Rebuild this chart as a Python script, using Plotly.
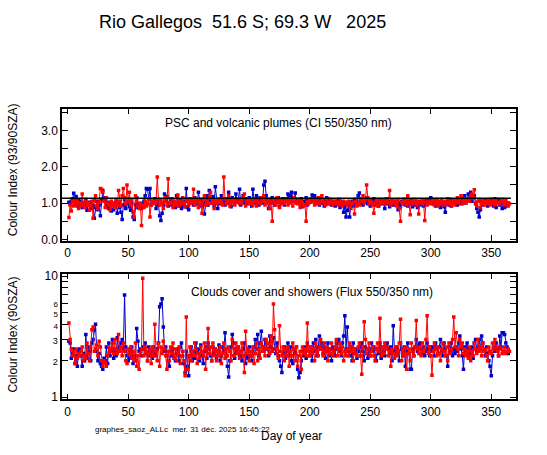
import plotly.graph_objects as go
from plotly.subplots import make_subplots

# colour index (93/90 SZA), one value per day
ci_blue = [
    1.02, 0.98, 1.05, 1.12, 1.27, 1.00, 1.18, 0.92, 1.08, 0.95,
    1.05, 0.88, 1.00, 0.93, 1.10, 0.80, 0.97, 1.02, 0.85, 0.90,
    0.95, 0.58, 0.88, 1.05, 0.82, 0.95, 0.65, 1.10, 1.35, 1.15,
    1.08, 0.95, 1.02, 0.85, 1.00, 0.78, 0.95, 0.82, 0.90, 1.05,
    0.72, 0.98, 0.88, 0.75, 0.55, 0.95, 1.10, 0.85, 0.98, 1.05,
    0.90, 0.80, 1.00, 0.62, 0.55, 0.95, 1.15, 0.88, 0.98, 0.92,
    0.85, 0.98, 1.05, 1.20, 1.40, 1.38, 1.10, 1.40, 0.95, 1.05,
    1.00, 1.12, 0.85, 1.05, 0.95, 0.65, 0.52, 0.72, 0.95, 1.25,
    1.05, 1.18, 0.92, 1.00, 1.10, 0.95, 1.05, 1.02, 0.88, 1.20,
    1.00, 0.92, 1.08, 0.85, 0.95, 1.05, 0.90, 1.40, 0.88, 0.82,
    1.10, 1.00, 1.05, 0.95, 1.15, 1.08, 0.98, 1.30, 1.05, 0.92,
    1.10, 0.98, 0.70, 1.05, 1.20, 0.95, 1.35, 1.08, 1.00, 1.18,
    0.92, 1.45, 1.05, 0.85, 1.10, 0.98, 1.20, 1.02, 1.08, 0.95,
    1.10, 1.00, 1.30, 1.05, 0.90, 1.15, 1.02, 0.98, 1.25, 1.05,
    1.10, 1.38, 0.95, 1.08, 1.20, 1.00, 1.12, 0.98, 1.05, 1.15,
    1.05, 0.92, 1.38, 1.10, 1.00, 1.20, 1.05, 0.95, 1.15, 1.08,
    1.00, 1.50, 1.60, 1.20, 1.05, 0.85, 1.10, 1.00, 1.15, 1.05,
    0.95, 1.10, 1.02, 1.15, 0.90, 1.08, 1.00, 1.12, 0.95, 1.05,
    1.10, 1.25, 1.05, 1.20, 1.30, 1.15, 1.05, 1.28, 1.00, 1.10,
    1.05, 0.98, 1.12, 0.90, 1.05, 1.00, 1.15, 0.95, 1.08, 1.02,
    1.10, 1.22, 1.05, 1.20, 0.98, 1.10, 1.05, 0.95, 1.12, 1.00,
    1.08, 0.92, 1.05, 1.15, 0.98, 1.10, 1.02, 0.95, 1.05, 1.00,
    0.92, 1.05, 0.98, 1.10, 0.88, 0.95, 1.02, 0.75, 0.90, 0.62,
    0.80, 0.95, 0.62, 1.00, 1.05, 0.92, 1.10, 0.98, 1.05, 1.20,
    1.28, 1.00, 1.08, 0.95, 1.10, 1.02, 1.15, 0.98, 1.05, 0.92,
    1.08, 1.00, 1.12, 0.95, 1.05, 1.00, 0.92, 1.10, 1.02, 0.98,
    1.05, 0.85, 1.10, 0.98, 1.05, 0.90, 1.02, 1.08, 0.95, 1.00,
    1.05, 0.95, 0.82, 1.00, 0.92, 1.05, 0.98, 1.10, 0.95, 1.02,
    0.92, 1.05, 0.98, 1.08, 0.90, 1.00, 0.95, 1.05, 0.88, 1.02,
    0.95, 1.05, 1.00, 0.92, 1.08, 0.98, 1.05, 1.10, 1.02, 1.15,
    1.08, 0.98, 1.05, 0.92, 1.10, 1.00, 0.95, 0.88, 1.05, 0.98,
    0.90, 0.75, 1.00, 1.05, 0.95, 1.10, 0.92, 1.02, 0.98, 1.05,
    1.08, 0.95, 1.10, 1.02, 0.98, 1.12, 1.05, 1.20, 1.00, 1.08,
    1.25, 1.10, 1.30, 1.05, 1.15, 1.20, 0.98, 0.85, 0.75, 0.62,
    0.82, 1.05, 0.95, 0.98, 1.08, 1.00, 0.92, 1.05, 0.98, 1.10,
    1.05, 0.92, 1.12, 0.88, 1.02, 1.10, 0.95, 1.05, 0.85, 1.00,
    0.88, 0.92, 0.95, 1.00,
]
ci_red = [
    0.60, 0.95, 0.78, 1.05, 0.92, 1.10, 0.95, 1.05, 0.85, 1.00,
    0.92, 1.25, 0.98, 0.88, 1.05, 0.95, 1.00, 0.80, 0.92, 1.05,
    0.58, 1.08, 1.20, 0.92, 0.85, 1.05, 1.40, 1.38, 1.30, 1.05,
    0.88, 1.15, 1.00, 0.95, 0.82, 1.05, 0.92, 1.00, 0.88, 1.10,
    0.95, 1.35, 1.05, 0.92, 1.20, 1.40, 1.15, 0.98, 1.50, 1.05,
    1.30, 0.95, 1.10, 0.75, 0.62, 1.20, 1.05, 0.92, 0.85, 1.00,
    0.38, 0.95, 0.88, 1.05, 0.92, 0.98, 1.10, 0.62, 0.95, 1.05,
    1.00, 0.98, 1.05, 1.72, 1.10, 0.95, 1.08, 1.00, 0.85, 1.05,
    1.15, 0.95, 1.67, 1.00, 0.98, 1.12, 0.88, 1.05, 0.95, 1.00,
    1.22, 0.92, 1.05, 0.98, 1.15, 1.00, 0.90, 1.10, 1.05, 0.95,
    1.12, 1.00, 1.05, 1.38, 0.95, 1.10, 1.02, 0.88, 1.05, 0.98,
    0.72, 1.10, 1.20, 0.95, 1.05, 0.98, 1.15, 1.30, 1.00, 1.08,
    0.85, 1.05, 0.98, 1.10, 1.02, 1.08, 1.00, 0.95, 1.72, 1.12,
    0.98, 1.05, 1.20, 0.92, 1.08, 1.00, 1.10, 0.95, 1.05, 1.02,
    1.05, 0.98, 1.10, 1.00, 1.15, 1.25, 0.92, 1.05, 1.10, 0.98,
    1.08, 1.00, 0.95, 1.12, 1.05, 0.92, 1.10, 1.02, 0.98, 1.15,
    1.05, 1.20, 0.95, 1.10, 1.00, 1.08, 0.85, 1.05, 0.50, 1.10,
    1.02, 0.95, 1.15, 1.05, 0.88, 1.10, 0.98, 1.05, 1.00, 1.12,
    1.05, 0.95, 1.10, 1.00, 1.08, 0.92, 1.15, 1.02, 1.05, 0.98,
    1.10, 0.88, 1.05, 1.00, 0.92, 0.95, 0.50, 1.05, 0.98, 1.10,
    1.02, 1.12, 1.05, 0.95, 1.10, 1.00, 1.15, 0.98, 1.05, 1.20,
    1.08, 1.00, 0.95, 1.12, 1.02, 0.98, 1.10, 1.05, 0.95, 1.00,
    1.05, 0.98, 1.02, 0.95, 1.10, 1.00, 0.92, 1.05, 0.98, 1.02,
    0.95, 1.05, 1.00, 0.85, 0.98, 1.02, 0.70, 1.05, 0.92, 1.00,
    0.95, 1.10, 1.05, 1.20, 1.00, 1.08, 1.50, 1.15, 0.98, 1.05,
    1.02, 0.95, 0.72, 1.00, 1.05, 0.92, 1.08, 0.98, 1.05, 1.00,
    1.10, 0.98, 1.05, 1.12, 1.00, 1.35, 0.95, 1.08, 1.02, 0.98,
    1.05, 0.92, 1.10, 0.85, 0.50, 1.02, 0.98, 1.05, 1.10, 0.95,
    1.20, 1.00, 0.68, 1.05, 0.98, 1.10, 1.02, 0.95, 1.05, 0.70,
    1.00, 1.05, 0.98, 1.08, 0.52, 1.02, 0.95, 1.05, 1.00, 0.98,
    1.05, 1.10, 0.95, 1.00, 1.08, 0.92, 1.05, 0.98, 1.10, 1.02,
    0.95, 1.05, 1.00, 1.12, 0.98, 1.05, 0.92, 1.00, 1.08, 0.95,
    1.05, 1.15, 1.00, 1.10, 1.20, 0.98, 1.05, 1.12, 1.00, 1.08,
    1.10, 1.05, 1.20, 1.25, 1.15, 1.37, 1.00, 0.92, 1.05, 1.10,
    0.88, 1.00, 1.08, 0.95, 1.05, 1.02, 0.98, 1.10, 0.95, 1.05,
    1.00, 1.08, 0.95, 1.05, 1.00, 1.02, 0.98, 1.05, 1.10, 1.02,
    0.95, 1.08, 1.00, 0.92, 0.98,
]

# flux ratio 550/350 nm (90 SZA), one value per day
flux_blue = [
    2.9, 2.8, 2.1, 2.3, 2.5, 1.9, 2.2, 1.8, 2.4, 2.5,
    2.2, 1.8, 2.3, 2.0, 3.3, 2.1, 2.6, 2.4, 2.0, 2.8,
    3.0, 3.6, 4.0, 2.4, 2.0, 2.3, 1.9, 1.8, 1.7, 2.1,
    2.0, 2.6, 1.9, 2.8, 2.2, 2.4, 3.0, 2.1, 2.5, 2.2,
    3.1, 2.4, 2.6, 2.8, 3.0, 2.5, 7.0, 2.6, 2.2, 2.0,
    2.4, 2.1, 2.6, 1.9, 2.2, 2.0, 3.7, 2.9, 2.4, 2.5,
    2.2, 2.6, 2.5, 2.8, 2.3, 2.0, 2.6, 2.2, 2.4, 2.1,
    2.6, 2.3, 2.2, 2.5, 2.8, 5.6, 5.9, 6.5, 3.8, 2.4,
    2.6, 2.2, 2.0, 1.8, 2.4, 2.2, 2.5, 2.1, 2.0, 2.3,
    2.5, 2.0, 2.6, 2.8, 2.2, 1.9, 1.6, 2.4, 1.8, 1.5,
    2.2, 2.6, 2.0, 2.4, 2.1, 2.8, 2.3, 2.5, 2.0, 2.7,
    2.2, 1.9, 2.4, 2.6, 2.1, 2.8, 2.5, 2.2, 2.0, 2.6,
    2.3, 2.5, 2.1, 2.4, 2.7, 2.0, 2.2, 2.6, 2.4, 3.4,
    2.2, 1.8, 1.47, 2.0, 2.6, 3.3, 2.8, 2.1, 2.5, 2.3,
    2.6, 2.2, 2.4, 2.0, 2.5, 2.8, 1.9, 2.3, 2.1, 2.6,
    2.2, 2.0, 2.4, 2.6, 3.0, 2.5, 3.3, 2.2, 2.8, 3.5,
    2.6, 2.4, 3.0, 2.8, 2.5, 2.2, 3.2, 2.6, 2.4, 3.1,
    2.5, 2.3, 2.8, 2.2, 2.0, 1.8, 1.6, 2.3, 2.6, 2.1,
    2.4, 2.8, 2.2, 2.6, 2.0, 1.9, 2.5, 2.3, 2.6, 1.7,
    1.45, 1.6, 2.0, 2.4, 2.2, 2.6, 2.1, 2.8, 2.4, 2.2,
    2.6, 2.0, 2.8, 2.4, 3.0, 2.2, 2.6, 3.2, 2.5, 2.8,
    2.3, 2.6, 2.1, 2.4, 2.8, 2.2, 2.5, 2.0, 2.6, 2.4,
    2.2, 2.8, 2.5, 3.0, 2.4, 2.2, 2.8, 3.2, 4.7, 2.5,
    3.8, 2.4, 2.2, 2.6, 2.0, 2.8, 2.3, 2.5, 2.1, 2.4,
    2.6, 2.2, 2.8, 2.4, 2.0, 2.6, 2.3, 2.1, 2.5, 2.2,
    2.8, 2.4, 2.6, 2.2, 2.0, 2.5, 2.3, 2.8, 2.1, 2.6,
    2.4, 2.2, 2.6, 2.8, 2.5, 2.3, 2.6, 2.0, 3.9, 2.4,
    2.2, 2.6, 2.4, 2.0, 2.8, 2.5, 2.2, 2.6, 1.8, 2.4,
    2.8, 2.3, 1.7, 1.7, 2.5, 2.2, 2.6, 3.0, 2.4, 2.7,
    2.8, 2.5, 2.3, 2.6, 2.2, 2.4, 2.8, 2.5, 2.2, 2.6,
    2.4, 2.6, 2.2, 2.8, 2.5, 2.3, 2.6, 3.0, 2.4, 2.2,
    2.8, 2.5, 2.2, 1.8, 2.6, 2.4, 2.8, 2.2, 2.5, 2.3,
    2.6, 2.4, 2.8, 3.2, 2.5, 2.2, 1.7, 2.6, 2.4, 2.8,
    2.2, 2.5, 2.3, 2.6, 2.1, 2.8, 3.0, 2.4, 2.6, 3.0,
    2.5, 3.2, 2.8, 2.4, 2.2, 2.6, 2.3, 2.0, 1.8, 1.5,
    2.2, 2.6, 2.4, 2.8, 2.5, 2.2, 3.2, 2.6, 3.4, 3.4,
    3.3, 2.8, 2.6, 2.3,
]
flux_red = [
    4.1, 3.0, 2.5, 2.2, 2.4, 1.9, 2.5, 2.1, 2.3, 2.2,
    2.4, 2.6, 2.0, 2.2, 2.1, 2.8, 2.3, 2.0, 2.6, 3.6,
    3.8, 2.4, 2.5, 2.7, 2.2, 2.9, 2.6, 2.0, 1.8, 2.0,
    1.9, 1.8, 2.2, 2.6, 2.4, 2.5, 2.8, 2.3, 3.0, 2.5,
    2.3, 3.3, 2.4, 2.6, 2.2, 2.8, 2.4, 2.0, 1.9, 2.5,
    2.3, 2.6, 2.1, 2.4, 2.0, 2.8, 1.8, 2.2, 1.7, 2.3,
    2.5, 9.6, 2.2, 2.6, 2.4, 2.0, 2.3, 2.5, 1.9, 2.6,
    2.2, 4.0, 2.4, 2.0, 2.8, 1.8, 2.6, 2.3, 2.9, 2.5,
    2.2, 1.7, 2.4, 2.0, 2.6, 2.3, 2.8, 2.1, 2.5, 2.0,
    2.3, 2.6, 1.9, 2.2, 2.4, 2.0, 1.5, 4.6, 1.7, 2.2,
    2.6, 2.0, 2.4, 2.2, 2.8, 2.5, 1.9, 2.3, 2.1, 2.6,
    2.4, 2.2, 2.8, 1.7, 2.5, 3.7, 2.3, 2.6, 2.0, 2.8,
    2.2, 2.5, 2.0, 2.4, 2.2, 2.6, 1.9, 2.3, 2.8, 2.1,
    2.5, 2.2, 2.6, 2.4, 2.0, 3.0, 2.2, 2.5, 2.8, 2.3,
    2.6, 2.1, 2.4, 2.8, 2.2, 1.6, 3.5, 2.3, 2.5, 2.0,
    2.4, 2.2, 2.6, 1.9, 2.3, 2.8, 2.0, 2.5, 2.1, 2.8,
    2.4, 2.6, 2.2, 3.0, 2.5, 2.8, 2.3, 3.2, 2.4, 5.9,
    3.6, 2.5, 2.3, 2.1, 3.9, 2.4, 2.2, 2.6, 2.0, 2.5,
    2.2, 2.6, 1.8, 2.4, 2.2, 2.8, 2.5, 2.0, 2.6, 1.8,
    2.2, 2.4, 1.7, 2.6, 2.3, 2.5, 2.2, 4.1, 2.4, 2.2,
    2.6, 2.3, 2.5, 2.0, 2.8, 2.4, 2.2, 2.6, 3.0, 2.5,
    2.2, 2.8, 2.4, 2.6, 2.0, 2.5, 2.3, 2.8, 2.2, 2.4,
    2.6, 3.0, 2.2, 2.5, 2.8, 2.3, 2.6, 2.0, 2.4, 2.2,
    2.5, 2.2, 2.8, 2.4, 2.6, 2.0, 2.5, 2.3, 2.2, 2.6,
    2.8, 2.2, 1.55, 2.6, 4.2, 3.0, 2.3, 2.5, 2.8, 2.2,
    2.4, 2.6, 2.2, 2.0, 2.5, 2.8, 2.4, 4.5, 2.2, 2.6,
    2.3, 2.8, 2.5, 2.6, 2.2, 2.4, 1.8, 2.5, 2.3, 2.1,
    2.6, 2.2, 2.4, 2.8, 4.4, 2.0, 2.5, 2.2, 2.6, 1.7,
    2.3, 2.5, 2.0, 2.8, 2.4, 2.2, 2.6, 4.3, 2.5, 2.3,
    2.6, 2.2, 2.8, 2.4, 2.5, 3.0, 4.7, 2.3, 2.6, 2.2,
    1.52, 2.4, 2.8, 2.5, 2.2, 2.6, 2.3, 2.0, 2.5, 2.8,
    2.4, 2.2, 2.6, 2.0, 2.8, 2.3, 2.5, 3.0, 4.6, 2.6,
    3.4, 2.5, 2.2, 3.0, 2.6, 2.8, 2.3, 2.5, 2.2, 2.4,
    2.1, 2.6, 2.0, 2.4, 2.2, 2.8, 2.5, 2.3, 3.0, 2.4,
    2.6, 2.2, 2.8, 2.4, 2.5, 2.2, 2.0, 2.6, 2.4, 2.3,
    2.8, 2.5, 3.0, 2.6, 2.4, 2.2, 2.6, 2.5, 2.3, 2.4,
    2.6, 2.3, 2.4, 2.5, 2.4,
]

ci_threshold = 1.13
days_blue = list(range(1, len(ci_blue) + 1))
days_red = list(range(1, len(ci_red) + 1))
day_ticks = [0, 50, 100, 150, 200, 250, 300, 350]
ci_ticks = [0, 0.5, 1, 1.5, 2, 2.5, 3, 3.5]
ci_labels = ["0.0", "", "1.0", "", "2.0", "", "3.0", ""]
flux_ticks = [1, 2, 3, 4, 5, 6, 7, 8, 9, 10]
flux_labels = ["1", "2", "3", "4", "5", "6", "", "", "", "10"]
flux_label_sizes = [12, 9, 9, 8, 8, 8, 8, 8, 8, 12]

W, H = 547, 455
BLUE = "#0000C8"
RED = "#FF0000"
FONT = "Liberation Sans, Arial, sans-serif"


def px(x):
    return x / W


def py(y):
    return 1 - y / H


fig = make_subplots(rows=2, cols=1)

for row, (yb, yr) in enumerate([(ci_blue, ci_red), (flux_blue, flux_red)], start=1):
    fig.add_trace(go.Scatter(x=days_blue, y=yb, mode="lines+markers",
                             line=dict(color=BLUE, width=1),
                             marker=dict(symbol="square", size=3.5, color=BLUE)),
                  row=row, col=1)
    fig.add_trace(go.Scatter(x=days_red, y=yr, mode="lines+markers",
                             line=dict(color=RED, width=1),
                             marker=dict(symbol="square", size=3.5, color=RED)),
                  row=row, col=1)

fig.add_shape(type="line", xref="x domain", yref="y", x0=0, x1=0.99,
              y0=ci_threshold, y1=ci_threshold, line=dict(color="black", width=1.5))

axis_style = dict(showline=True, linecolor="black", linewidth=1.5, mirror="ticks",
                  ticks="inside", ticklen=6, tickcolor="black", showgrid=False,
                  zeroline=False, tickfont=dict(family=FONT, size=12, color="black"))

flux_text = [f'<span style="font-size:{s}px">{t}</span>' if t else ""
             for t, s in zip(flux_labels, flux_label_sizes)]

x_dom = [px(62), px(515.5)]
fig.update_xaxes(axis_style, domain=x_dom, range=[-4.7, 370], tickvals=day_ticks)
fig.update_yaxes(axis_style, row=1, col=1, domain=[py(242), py(107)],
                 range=[-0.035, 3.6], tickvals=ci_ticks, ticktext=ci_labels)
fig.update_yaxes(axis_style, row=2, col=1, domain=[py(404.3), py(275.7)],
                 type="log", range=[-0.0186, 1.021], tickvals=flux_ticks, ticktext=flux_text)

notes = [
    ("Rio\u00a0Gallegos\u00a0\u00a051.6\u00a0S;\u00a069.3\u00a0W\u00a0\u00a0\u00a02025", 97, 18, 18),
    ("PSC and volcanic plumes (CI 550/350 nm)", 163, 122, 12),
    ("Clouds cover and showers (Flux 550/350 nm)", 189, 294, 12),
    ("graphes_saoz_ALLc\u00a0\u00a0mer. 31 déc. 2025 16:45:22", 93, 435, 8),
    ("Day of year", 259, 442, 12),
]
ann = []
for text, x, y, size in notes:
    ann.append(dict(text=text, x=px(x), y=py(y), xref="paper", yref="paper",
                    xanchor="left", yanchor="middle", showarrow=False,
                    font=dict(family=FONT, size=size, color="black")))
for text, yc in [("Colour Index (93/90SZA)", 170), ("Colour Index (90SZA)", 338)]:
    ann.append(dict(text=text, x=px(13), y=py(yc), xref="paper", yref="paper",
                    xanchor="center", yanchor="middle", textangle=-90, showarrow=False,
                    font=dict(family=FONT, size=12, color="black")))

fig.update_layout(width=W, height=H, margin=dict(l=0, r=0, t=0, b=0),
                  paper_bgcolor="white", plot_bgcolor="white", showlegend=False,
                  annotations=ann)

fig.write_html("out.html", config={"displayModeBar": False},
               post_script="document.body.style.margin='0px';")
